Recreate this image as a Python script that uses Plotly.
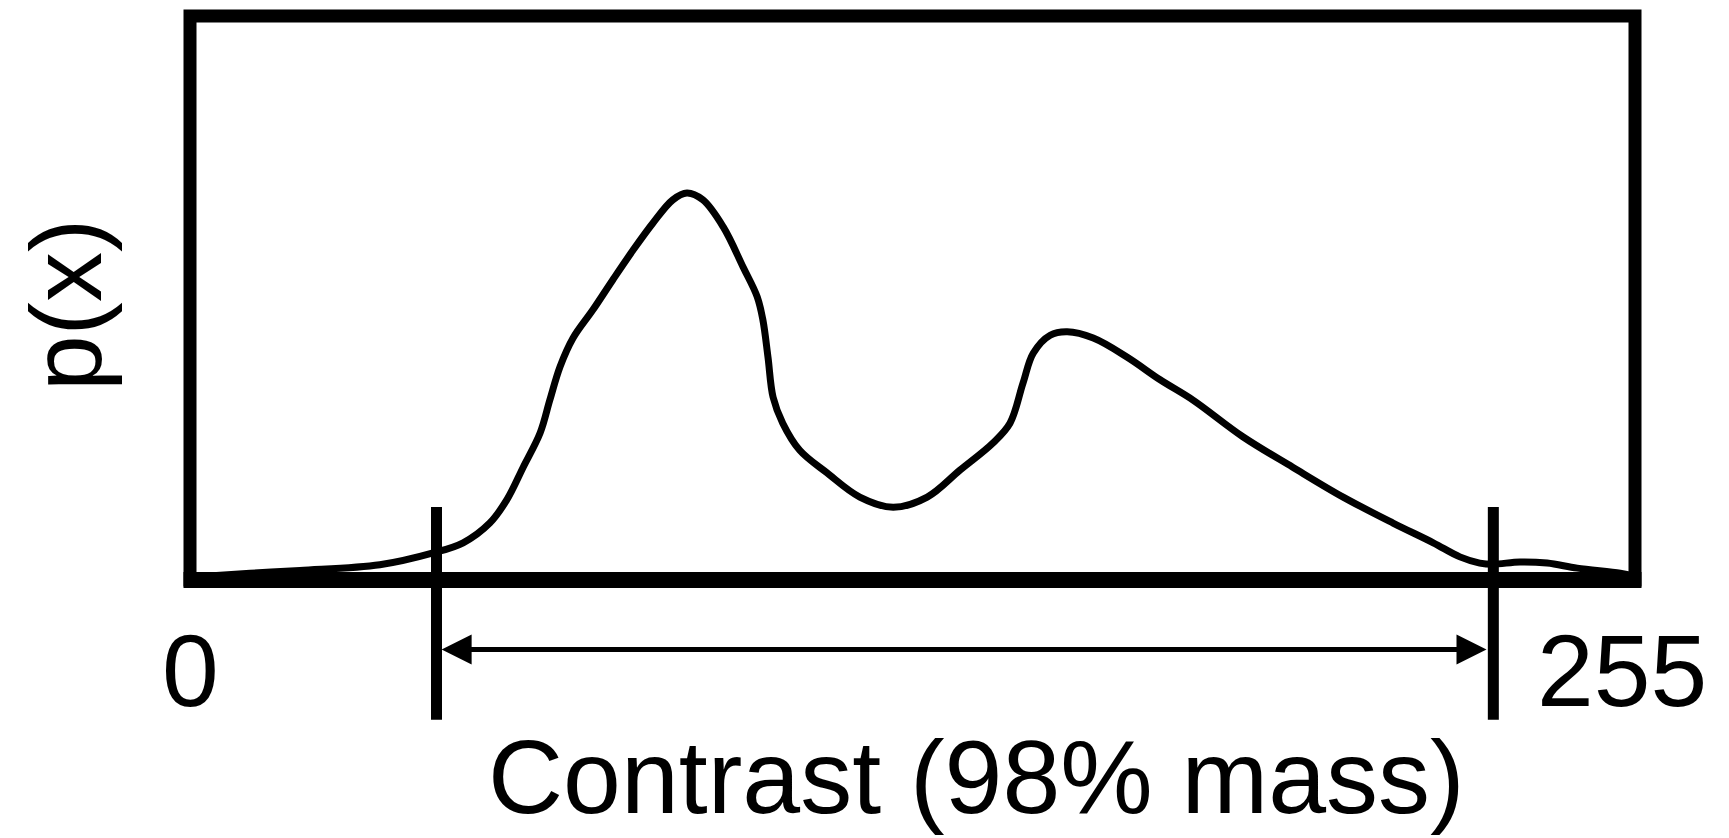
import plotly.graph_objects as go

# Density curve p(x) over contrast 0..255 (y as fraction of plot height)
contrast = [0, 10.6, 19.4, 33.5, 42.9, 48.2, 52.9, 55.9, 58.8, 61.8, 63.5, 65.3, 67.6,
            71.1, 74.6, 78.2, 81.7, 85.2, 87.7, 90.5, 94.1, 97.6, 100.1, 101.1, 102.0,
            102.9, 104.6, 107.6, 112.4, 118.2, 124.1, 130.1, 135.9, 141.7, 144.7, 147.0,
            148.8, 151.8, 154.8, 159.4, 165.4, 171.2, 177.0, 185.8, 194.6, 203.5, 212.3,
            219.4, 224.1, 227.6, 230.0, 234.7, 239.5, 244.8, 252.4, 255]
density = [0.005, 0.012, 0.017, 0.027, 0.048, 0.066, 0.101, 0.142, 0.200, 0.261, 0.319,
           0.378, 0.429, 0.479, 0.532, 0.585, 0.633, 0.674, 0.686, 0.674, 0.626, 0.555,
           0.502, 0.461, 0.395, 0.324, 0.278, 0.230, 0.190, 0.147, 0.129, 0.147, 0.195,
           0.243, 0.278, 0.349, 0.402, 0.434, 0.440, 0.429, 0.395, 0.355, 0.319, 0.254,
           0.200, 0.147, 0.101, 0.066, 0.041, 0.030, 0.028, 0.032, 0.030, 0.021, 0.012,
           0.007]

# 98% mass bounds
lower_bound = 43.5
upper_bound = 230.0

# Tick labels at range ends
tick_values = [0, 255]
tick_labels = ["0", "255"]

x_title = "Contrast (98% mass)"
y_title = "p(x)"

FONT = "Liberation Sans, Arial, Helvetica, sans-serif"
FS = 102

fig = go.Figure()
fig.add_trace(go.Scatter(
    x=contrast, y=density, mode="lines",
    line=dict(color="black", width=7, shape="spline", smoothing=1.0),
    hoverinfo="skip", showlegend=False,
))

shapes = [
    dict(type="rect", xref="x domain", yref="y domain", x0=0, x1=1, y0=0, y1=1,
         line=dict(color="black", width=13), layer="above"),
    dict(type="line", xref="x domain", yref="y domain", x0=-0.0045, x1=1.0045, y0=0, y1=0,
         line=dict(color="black", width=16), layer="above"),
]
for b in (lower_bound, upper_bound):
    shapes.append(dict(type="line", xref="x", yref="paper", x0=b, x1=b, y0=-0.248, y1=0.1294,
                       line=dict(color="black", width=11), layer="above"))

arrow_y = -0.1232
mid = (lower_bound + upper_bound) / 2
annotations = [
    dict(x=upper_bound - 1.2, y=arrow_y, xref="x", yref="paper", ax=mid - 15, ay=0,
         axref="x", ayref="pixel", text="", showarrow=True, arrowhead=2,
         arrowsize=1.2, arrowwidth=5, arrowcolor="black"),
    dict(x=lower_bound + 0.9, y=arrow_y, xref="x", yref="paper", ax=mid + 15, ay=0,
         axref="x", ayref="pixel", text="", showarrow=True, arrowhead=2,
         arrowsize=1.2, arrowwidth=5, arrowcolor="black"),
]
label_x = [tick_values[0], 255 * (1622 - 190) / 1445]
for tx, tl in zip(label_x, tick_labels):
    annotations.append(dict(x=tx, y=-0.1613, xref="x", yref="paper", text=tl,
                            showarrow=False, xanchor="center", yanchor="middle",
                            font=dict(family=FONT, size=FS, color="black")))
annotations.append(dict(x=0.544, y=-0.35, xref="paper", yref="paper", text=x_title,
                        showarrow=False, xanchor="center", yanchor="middle",
                        font=dict(family=FONT, size=104, color="black")))
annotations.append(dict(x=-0.0858, y=0.4876, xref="paper", yref="paper", text=y_title,
                        showarrow=False, xanchor="center", yanchor="middle", textangle=-90,
                        font=dict(family=FONT, size=100, color="black")))

fig.update_layout(
    width=1729, height=838,
    margin=dict(l=190, r=94, t=16, b=258, pad=0),
    paper_bgcolor="white", plot_bgcolor="white",
    xaxis=dict(range=[0, 255], showgrid=False, zeroline=False, showticklabels=False,
               ticks="", showline=False, fixedrange=True),
    yaxis=dict(range=[0, 1], showgrid=False, zeroline=False, showticklabels=False,
               ticks="", showline=False, fixedrange=True),
    shapes=shapes, annotations=annotations, showlegend=False,
)

fig.write_html("out.html", config={"displayModeBar": False})
